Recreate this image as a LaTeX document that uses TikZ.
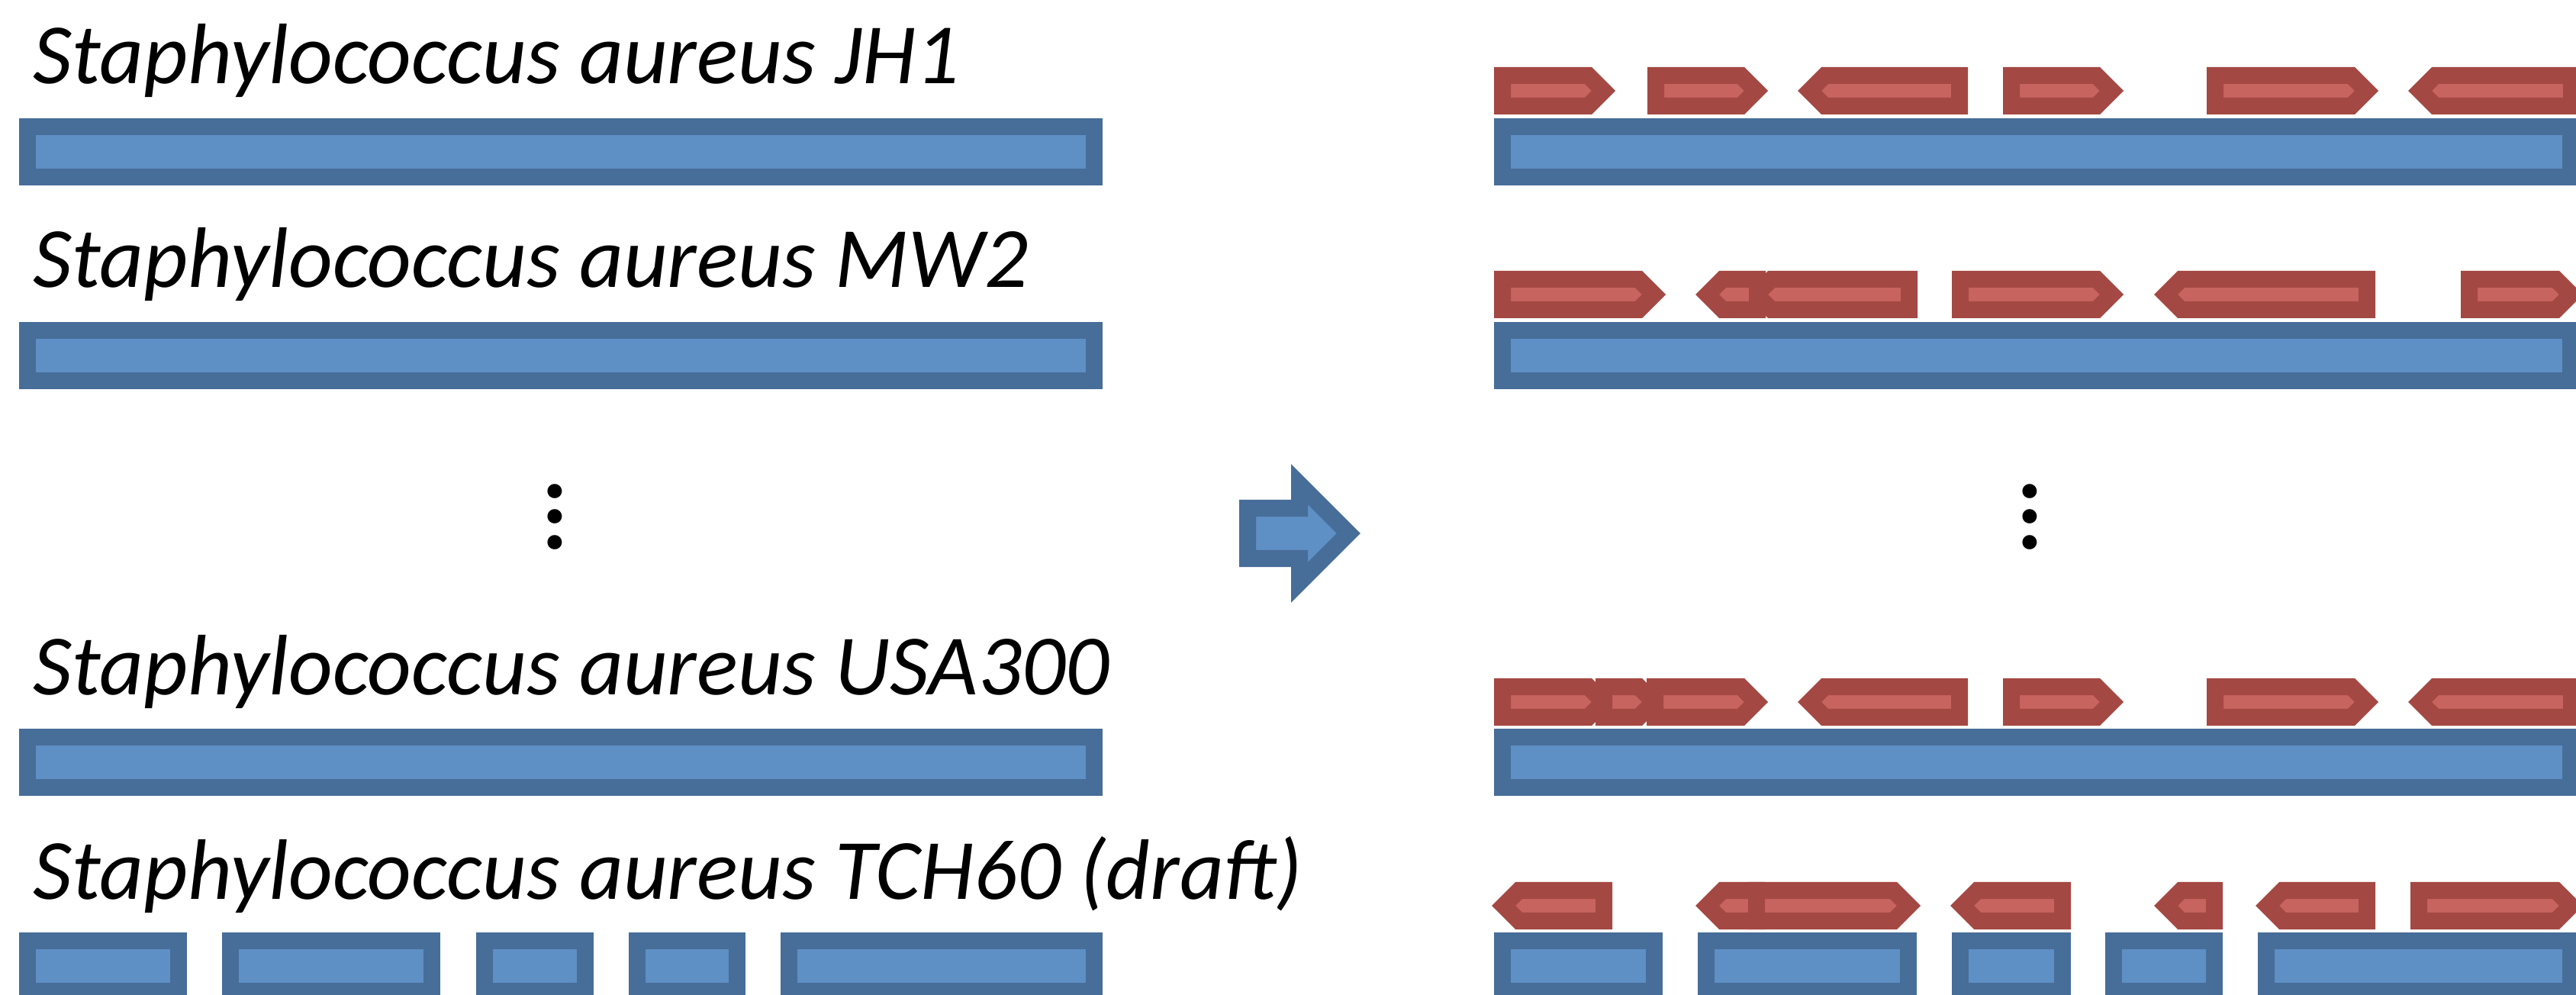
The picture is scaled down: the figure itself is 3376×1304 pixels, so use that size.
\documentclass[tikz,border=0pt]{standalone}
\usepackage{fontspec}
\setmainfont{Carlito}
\usepackage{tikz}

\definecolor{darkblue}{RGB}{71,109,153}
\definecolor{lightblue}{RGB}{94,143,197}
\definecolor{darkred}{RGB}{164,72,67}
\definecolor{lightred}{RGB}{200,100,95}

% gene arrows: row y, outer left, outer right
\newcommand\fgene[3]{\draw[gene] ({#2+11},{#1-20}) -- ({#3-35.56},{#1-20}) -- ({#3-15.56},#1) -- ({#3-35.56},{#1+20}) -- ({#2+11},{#1+20}) -- cycle;}
\newcommand\rgene[3]{\draw[gene] ({#3-11},{#1-20}) -- ({#2+35.56},{#1-20}) -- ({#2+15.56},#1) -- ({#2+35.56},{#1+20}) -- ({#3-11},{#1+20}) -- cycle;}

\begin{document}
\begin{tikzpicture}[x=0.01cm, y=-0.01cm,
  strain/.style={anchor=base west, inner sep=0pt, font=\fontsize{32}{38}\selectfont\itshape},
  chrom/.style={draw=darkblue, fill=lightblue, line width=0.22cm, line join=miter},
  gene/.style={draw=darkred, fill=lightred, line width=0.22cm, line join=miter},
  vdot/.style={inner sep=0pt, font=\fontsize{36}{36}\selectfont\bfseries}]
\useasboundingbox (0,0) rectangle (3376,1304);
\clip (0,0) rectangle (3376,1304);

\node[strain] (jh1) at (43,110) {Staphylococcus aureus JH1};
\node[strain] (mw2) at (43,377) {Staphylococcus aureus MW2};
\node[strain] (usa300) at (43,911) {Staphylococcus aureus USA300};
\node[strain] (tch60) at (43,1178) {Staphylococcus aureus TCH60 (draft)};

% genomes, left
\draw[chrom] (36,166) rectangle (1434,232);
\draw[chrom] (36,433) rectangle (1434,499);
\draw[chrom] (36,966) rectangle (1434,1032);
\draw[chrom] (36,1233) rectangle (234,1299);
\draw[chrom] (302,1233) rectangle (566,1299);
\draw[chrom] (635,1233) rectangle (767,1299);
\draw[chrom] (835,1233) rectangle (966,1299);
\draw[chrom] (1034,1233) rectangle (1434,1299);
\node[vdot] (ldot1) at (727,644) {.};
\node[vdot] (ldot2) at (727,677) {.};
\node[vdot] (ldot3) at (727,711) {.};

% arrow
\draw[chrom] (1635,666) -- (1703,666) -- (1703,634.6) -- (1767.4,699)
  -- (1703,763.4) -- (1703,732) -- (1635,732) -- cycle;

% genomes, right
\draw[chrom] (1969,166) rectangle (3369,232);
\draw[chrom] (1969,433) rectangle (3369,499);
\draw[chrom] (1969,966) rectangle (3369,1032);
\draw[chrom] (1969,1233) rectangle (2168,1299);
\draw[chrom] (2236,1233) rectangle (2501,1299);
\draw[chrom] (2569,1233) rectangle (2703,1299);
\draw[chrom] (2770,1233) rectangle (2902,1299);
\draw[chrom] (2970,1233) rectangle (3369,1299);
\node[vdot] (rdot1) at (2660,644) {.};
\node[vdot] (rdot2) at (2660,677) {.};
\node[vdot] (rdot3) at (2660,711) {.};

% genes
\fgene{119}{1958}{2117}
\fgene{119}{2159}{2317}
\rgene{119}{2356}{2579}
\fgene{119}{2625}{2783}
\fgene{119}{2892}{3117}
\rgene{119}{3156}{3381}

\fgene{386}{1958}{2183}
\rgene{386}{2286}{2513}
\rgene{386}{2222}{2314}
\fgene{386}{2558}{2783}
\rgene{386}{2823}{3113}
\fgene{386}{3225}{3385}

\fgene{920}{1958}{2117}
\fgene{920}{2091}{2183}
\fgene{920}{2158}{2317}
\rgene{920}{2356}{2579}
\fgene{920}{2625}{2783}
\fgene{920}{2892}{3117}
\rgene{920}{3156}{3381}

\rgene{1187}{1955}{2113}
\rgene{1187}{2222}{2313}
\fgene{1187}{2291}{2517}
\rgene{1187}{2556}{2714}
\rgene{1187}{2823}{2913}
\rgene{1187}{2956}{3113}
\fgene{1187}{3159}{3385}
\end{tikzpicture}
\end{document}
